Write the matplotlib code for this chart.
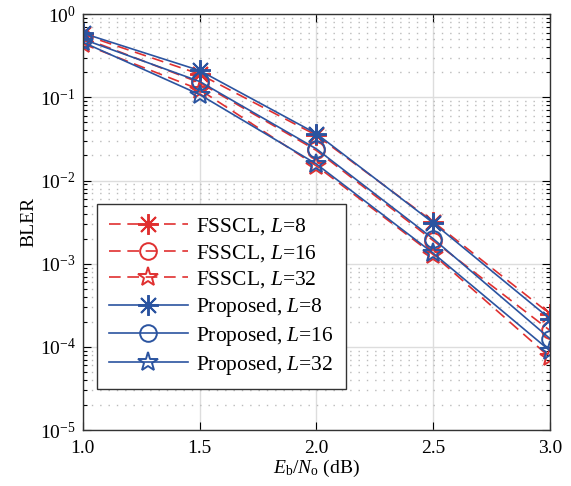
import matplotlib
matplotlib.use('Agg')
import matplotlib.pyplot as plt
import numpy as np
from matplotlib.ticker import LogLocator, NullFormatter

plt.rcParams['font.family'] = 'Liberation Serif'
plt.rcParams['mathtext.fontset'] = 'custom'
plt.rcParams['mathtext.rm'] = 'Liberation Serif'
plt.rcParams['mathtext.it'] = 'Liberation Serif:italic'

snr = [1.0, 1.5, 2.0, 2.5, 3.0]
fsscl_8 = [0.57, 0.19, 0.035, 0.0032, 0.00025]
fsscl_16 = [0.52, 0.15, 0.023, 0.0019, 0.000158]
fsscl_32 = [0.44, 0.124, 0.015, 0.00129, 0.000075]
prop_8 = [0.59, 0.21, 0.0366, 0.0031, 0.000218]
prop_16 = [0.50, 0.155, 0.024, 0.0020, 0.000126]
prop_32 = [0.46, 0.108, 0.0158, 0.00134, 0.00009]

red = '#e03030'
blue = '#2b54a0'
ast = (8, 2, 0)

fig = plt.figure(figsize=(5.71, 4.86), dpi=100)
ax = fig.add_axes([0.145, 0.115, 0.818, 0.856])

dash = (7, 4)
ax.plot(snr, fsscl_8, color=red, ls='--', dashes=dash, lw=1.2, marker=ast, ms=15, mew=1.4, label='FSSCL, $L$=8')
ax.plot(snr, fsscl_16, color=red, ls='--', dashes=dash, lw=1.2, marker='o', ms=12, mfc='none', mew=1.4, label='FSSCL, $L$=16')
ax.plot(snr, fsscl_32, color=red, ls='--', dashes=dash, lw=1.2, marker='*', ms=15, mfc='none', mew=1.4, label='FSSCL, $L$=32')
ax.plot(snr, prop_8, color=blue, lw=1.2, marker=ast, ms=15, mew=1.4, label='Proposed, $L$=8')
ax.plot(snr, prop_16, color=blue, lw=1.2, marker='o', ms=12, mfc='none', mew=1.4, label='Proposed, $L$=16')
ax.plot(snr, prop_32, color=blue, lw=1.2, marker='*', ms=15, mfc='none', mew=1.4, label='Proposed, $L$=32')

ax.set_yscale('log')
ax.set_xlim(1.0, 3.0)
ax.set_ylim(1e-5, 1)
ax.set_xticks([1.0, 1.5, 2.0, 2.5, 3.0])
ax.set_xticklabels(['1.0', '1.5', '2.0', '2.5', '3.0'])
ax.yaxis.set_minor_locator(LogLocator(base=10, subs=np.arange(2, 10), numticks=20))
ax.yaxis.set_minor_formatter(NullFormatter())
ax.tick_params(which='both', direction='in', top=True, right=True, labelsize=14, width=0.8)
ax.tick_params(which='major', length=6)
ax.tick_params(which='minor', length=3)
ax.tick_params(axis='x', pad=7)
ax.tick_params(axis='y', pad=5)
ax.grid(which='major', color='#dddddd', lw=1.0)
ax.grid(which='minor', axis='y', color='#bbbbbb', ls=(0, (1, 5)), lw=1.0)
for s in ax.spines.values():
    s.set_color('#333333')
    s.set_linewidth(1.0)

ax.set_xlabel('$E_\\mathrm{b}/N_\\mathrm{o}$ (dB)', fontsize=14, labelpad=1)
ax.set_ylabel('BLER', fontsize=14, labelpad=2)

leg = ax.legend(loc='upper left', bbox_to_anchor=(0.03, 0.543), borderaxespad=0,
                fontsize=15.5, handlelength=3.7, fancybox=False, framealpha=1,
                edgecolor='#333333', labelspacing=0.27, handletextpad=0.37, borderpad=0.55)
leg.get_frame().set_linewidth(1.0)

fig.savefig('out.png', dpi=100)
